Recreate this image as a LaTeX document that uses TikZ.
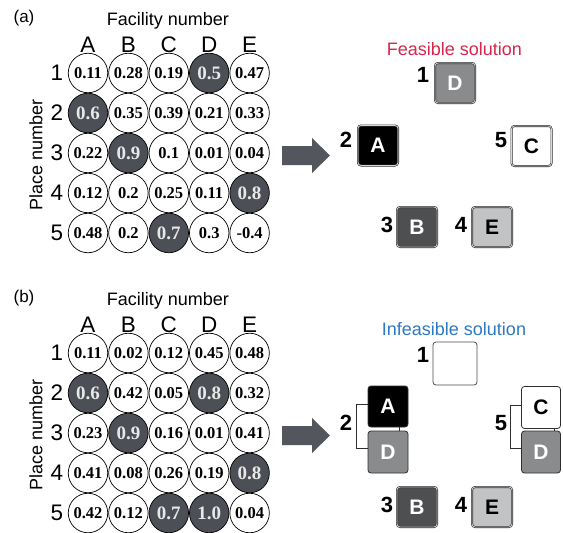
\documentclass[tikz,border=0pt]{standalone}
\usepackage{fontspec}
\setmainfont{Liberation Sans}
\newfontfamily\numserif{Liberation Serif}
\newcommand\fs[1]{\fontsize{#1}{#1}\selectfont}

\definecolor{slate}{HTML}{4D4F57}
\definecolor{hottext}{HTML}{E8E8E8}
\definecolor{arrowfill}{HTML}{54565E}
\definecolor{feasred}{HTML}{D7264B}
\definecolor{infblue}{HTML}{2F78C4}
\definecolor{tileline}{HTML}{2E2E2E}
\definecolor{tiledouble}{HTML}{D8D8D8}
\definecolor{midgray}{HTML}{8A8B8D}
\definecolor{darkgray}{HTML}{4E4F51}
\definecolor{lightgray}{HTML}{C2C3C5}

\tikzset{
  cell/.style={circle, draw=black, line width=0.7pt, fill=white,
    minimum size=39.5pt, inner sep=0pt, font=\numserif\bfseries\fs{16.5}},
  hot/.style={cell, fill=slate, text=hottext, font=\numserif\bfseries\fs{19}},
  axis/.style={font=\fs{18}, inner sep=0pt},
  head/.style={font=\fs{22.5}, inner sep=0pt},
  panel/.style={font=\fs{17}, inner sep=0pt},
  tile/.style={rounded corners=3pt, minimum width=40pt, minimum height=40pt,
    inner sep=0pt, draw=tileline, line width=0.6pt, double=tiledouble,
    double distance=0.8pt, font=\bfseries\fs{21}},
  flat/.style={rounded corners=3pt, inner sep=0pt, draw=tileline,
    line width=0.8pt, font=\bfseries\fs{21}},
  tag/.style={font=\bfseries\fs{22}, inner sep=0pt},
  bracket/.style={draw=tileline, line width=0.8pt},
}

% place-by-facility matrix: #1 name prefix, #2 rows of style/value pairs
\newcommand\valuegrid[2]{%
  \node[axis, anchor=base] (#1title) at (168,25) {Facility number};
  \foreach \l [count=\c] in {A,B,C,D,E}
    \node[head, anchor=base] (#1col\c) at ({88+40.4*(\c-1)},52) {\l};
  \foreach \r in {1,...,5}
    \node[head] (#1row\r) at (57,{73+40*(\r-1)}) {\r};
  \node[axis, rotate=90] (#1axis) at (36,155) {Place number};
  \foreach \rowlist [count=\r] in {#2} {
    \foreach \s/\v [count=\c] in \rowlist {
      \node[\s] (#1\r\c) at ({88+40.4*(\c-1)},{73+40*(\r-1)}) {\v};
    }
  }
  \fill[arrowfill] (282,146) -- (312,146) -- (312,138) -- (330,155.5)
    -- (312,173) -- (312,165) -- (282,165) -- cycle;
}

\begin{document}
\begin{tikzpicture}[x=1pt,y=-1pt]
\useasboundingbox[fill=white] (0,0) rectangle (563,533);

% ---------- (a) feasible assignment ----------
\node[panel] (labA) at (24,18) {(a)};
\valuegrid{a}{
  {cell/0.11,cell/0.28,cell/0.19,hot/0.5,cell/0.47},
  {hot/0.6,cell/0.35,cell/0.39,cell/0.21,cell/0.33},
  {cell/0.22,hot/0.9,cell/0.1,cell/0.01,cell/0.04},
  {cell/0.12,cell/0.2,cell/0.25,cell/0.11,hot/0.8},
  {cell/0.48,cell/0.2,hot/0.7,cell/0.3,cell/-0.4}}

\node[font=\fs{18}, text=feasred, anchor=base, inner sep=0pt] (feas) at (454.5,55) {Feasible solution};
\node[tile, fill=midgray, text=white] (aD) at (455,83) {D};
\node[tile, fill=black, text=white] (aA) at (378,145.5) {A};
\node[tile, fill=white, text=black] (aC) at (531.5,146) {C};
\node[tile, fill=darkgray, text=white] (aB) at (417,227) {B};
\node[tile, fill=lightgray, text=black] (aE) at (492,227) {E};
\node[tag] (a1) at (423,75) {1};
\node[tag] (a2) at (346,140) {2};
\node[tag] (a5) at (501,140) {5};
\node[tag] (a3) at (387,225) {3};
\node[tag] (a4) at (461,225) {4};

% ---------- (b) infeasible assignment ----------
\begin{scope}[shift={(0,280)}]
\node[panel] (labB) at (24,18) {(b)};
\valuegrid{b}{
  {cell/0.11,cell/0.02,cell/0.12,cell/0.45,cell/0.48},
  {hot/0.6,cell/0.42,cell/0.05,hot/0.8,cell/0.32},
  {cell/0.23,hot/0.9,cell/0.16,cell/0.01,cell/0.41},
  {cell/0.41,cell/0.08,cell/0.26,cell/0.19,hot/0.8},
  {cell/0.42,cell/0.12,hot/0.7,hot/1.0,cell/0.04}}

\node[font=\fs{18}, text=infblue, anchor=base, inner sep=0pt] (infeas) at (454,55) {Infeasible solution};
\node[flat, fill=white, draw=black!70, minimum width=44pt, minimum height=43pt] (bE1) at (455,83.5) {};
\node[flat, fill=black, text=white, minimum width=40pt, minimum height=41pt] (bA) at (388,126.5) {A};
\node[flat, fill=midgray, text=white, minimum width=40pt, minimum height=42pt] (bD2) at (388,172) {D};
\node[flat, fill=white, text=black, minimum width=39pt, minimum height=42pt] (bC) at (541,127.5) {C};
\node[flat, fill=midgray, text=white, minimum width=39pt, minimum height=42pt] (bD5) at (541,172) {D};
\node[tile, fill=darkgray, text=white] (bB) at (417,227) {B};
\node[tile, fill=lightgray, text=black] (bE) at (492,227) {E};

\draw[bracket] ([yshift=2pt]bA.west) -- ++(-11,0) |- ([yshift=4pt]bD2.west);
\draw[bracket] ([xshift=-9pt]bA.south east) -- ([xshift=-9pt]bD2.north east);
\draw[bracket] ([yshift=2pt]bC.west) -- ++(-11,0) |- ([yshift=4pt]bD5.west);
\draw[bracket] ([xshift=-7pt]bC.south east) -- ([xshift=-7pt]bD5.north east);

\node[tag] (b1) at (423,75) {1};
\node[tag] (b2) at (346,143) {2};
\node[tag] (b5) at (501,143) {5};
\node[tag] (b3) at (387,225) {3};
\node[tag] (b4) at (461,225) {4};
\end{scope}
\end{tikzpicture}
\end{document}
